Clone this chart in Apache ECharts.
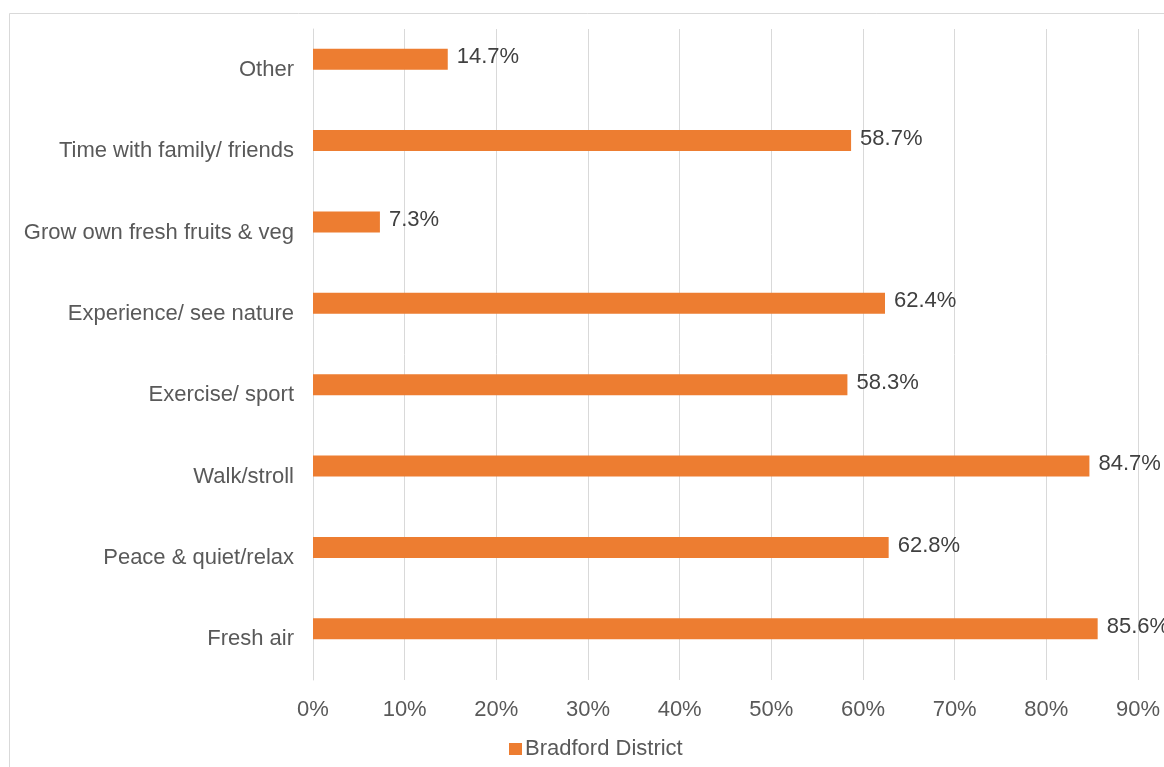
<!DOCTYPE html>
<html>
<head>
<meta charset="utf-8">
<title>Bradford District</title>
<script src="https://cdn.jsdelivr.net/npm/echarts@6/dist/echarts.min.js"></script>
<style>
  html, body { margin: 0; padding: 0; background: #ffffff; }
  #chart { width: 1164px; height: 767px; }
</style>
</head>
<body>
<div id="chart"></div>
<script>
// Reasons for visiting green space (bottom to top on the chart)
const categories = [
  'Fresh air',
  'Peace & quiet/relax',
  'Walk/stroll',
  'Exercise/ sport',
  'Experience/ see nature',
  'Grow own fresh fruits & veg',
  'Time with family/ friends',
  'Other'
];
const bradfordValues = [85.6, 62.8, 84.7, 58.3, 62.4, 7.3, 58.7, 14.7];
const seriesName = 'Bradford District';
const axisMax = 90;
const axisStep = 10;

const FONT = '"Liberation Sans", Arial, sans-serif';
const chart = echarts.init(document.getElementById('chart'), null, { renderer: 'canvas' });

chart.setOption({
  backgroundColor: '#ffffff',
  animation: false,
  graphic: [{
    type: 'rect',
    shape: { x: 9.5, y: 13.5, width: 1200, height: 800 },
    style: { fill: 'none', stroke: '#D9D9D9', lineWidth: 1 },
    silent: true
  }],
  grid: { left: 313, right: 26, top: 29, bottom: 87, containLabel: false },
  legend: {
    data: [seriesName],
    top: 733,
    left: 504,
    itemWidth: 13,
    itemHeight: 12,
    itemGap: 10,
    icon: 'rect',
    textStyle: { fontFamily: FONT, fontSize: 22, color: '#595959', padding: [0, 0, 0, -2] }
  },
  xAxis: {
    type: 'value',
    min: 0,
    max: axisMax,
    interval: axisStep,
    axisLine: { show: false },
    axisTick: { show: false },
    splitLine: { show: true, lineStyle: { color: '#D9D9D9', width: 1 } },
    axisLabel: {
      formatter: v => v + '%',
      fontFamily: FONT, fontSize: 22, color: '#595959', margin: 19
    }
  },
  yAxis: {
    type: 'category',
    data: categories,
    axisLine: { show: true, lineStyle: { color: '#D9D9D9', width: 1 } },
    axisTick: { show: false },
    axisLabel: { fontFamily: FONT, fontSize: 22, color: '#595959', margin: 19 }
  },
  series: [
    {
      name: seriesName,
      type: 'bar',
      data: bradfordValues,
      barWidth: 21,
      barGap: '0%',
      itemStyle: { color: '#ED7D31' },
      label: {
        show: true,
        position: 'right',
        distance: 9,
        offset: [0, -2],
        formatter: p => p.value.toFixed(1) + '%',
        fontFamily: FONT, fontSize: 22, color: '#404040'
      }
    },
    {
      // empty companion series: keeps the clustered bar slot layout
      name: 'spacer',
      type: 'bar',
      data: [],
      barWidth: 21,
      barGap: '0%',
      silent: true
    }
  ]
});
</script>
</body>
</html>
